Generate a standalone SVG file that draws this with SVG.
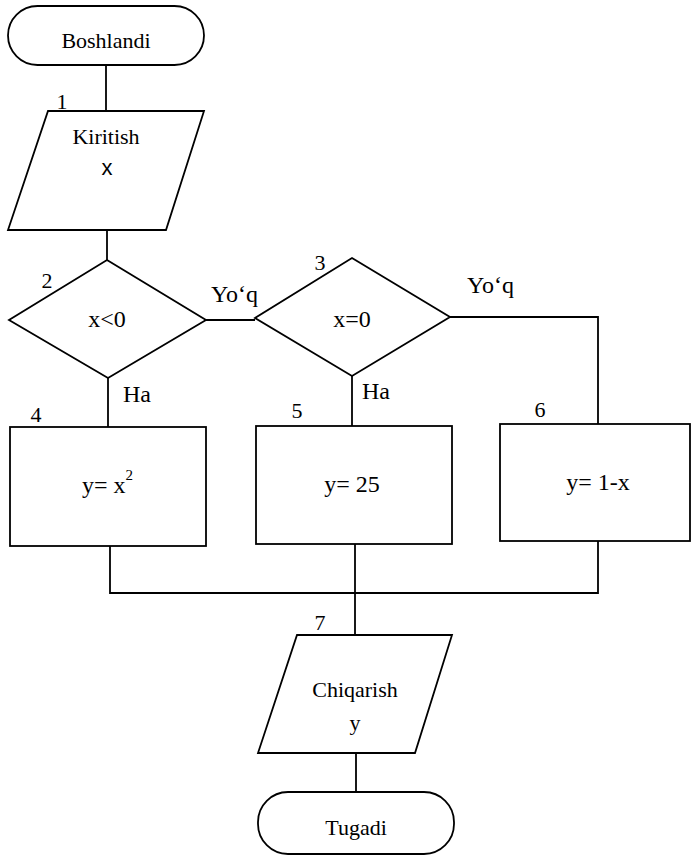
<svg xmlns="http://www.w3.org/2000/svg" width="691" height="856" viewBox="0 0 691 856">
<style>
.s{fill:#fff;stroke:#000;stroke-width:1.8}
.c{fill:none;stroke:#000;stroke-width:1.8}
text{font-family:"Liberation Serif","Times New Roman",serif;fill:#000}
.t{font-size:22px;text-anchor:middle}
.f{font-size:24px;text-anchor:middle}
.n{font-size:22px;text-anchor:middle}
.l{font-size:24px}
.sans{font-family:"Liberation Sans",Arial,sans-serif}
</style>
<rect width="691" height="856" fill="#fff"/>
<g id="connectors">
<polyline class="c" points="106,65 106,111"/>
<polyline class="c" points="107,230 107,260"/>
<polyline class="c" points="206,320 255,320"/>
<polyline class="c" points="450,317 598,317 598,424"/>
<polyline class="c" points="108,378 108,427"/>
<polyline class="c" points="352,376 352,426"/>
<polyline class="c" points="110,546 110,593 598,593 598,541"/>
<polyline class="c" points="355,543 355,635"/>
<polyline class="c" points="356,753 356,792"/>
<text class="l" x="211" y="302">Yo‘q</text>
<text class="l" x="467" y="293">Yo‘q</text>
<text class="l" x="123" y="402">Ha</text>
<text class="l" x="362" y="399">Ha</text>
</g>
<g id="start">
<rect class="s" x="8" y="6" width="196" height="59" rx="29.5"/>
<text class="t" x="106" y="48">Boshlandi</text>
</g>
<g id="n1">
<polygon class="s" points="48,111 204,111 166,230 8,230"/>
<text class="n" x="62" y="109">1</text>
<text class="t" x="106" y="144">Kiritish</text>
<text class="t sans" x="107" y="175">x</text>
</g>
<g id="n2">
<polygon class="s" points="107,260 206,320 108,378 9,320"/>
<text class="n" x="47" y="288">2</text>
<text class="f" x="107" y="327">x&lt;0</text>
</g>
<g id="n3">
<polygon class="s" points="352,258 450,317 352,376 255,318"/>
<text class="n" x="320" y="270">3</text>
<text class="f" x="352" y="327">x=0</text>
</g>
<g id="n4">
<rect class="s" x="10" y="427" width="196" height="119"/>
<text class="n" x="36" y="422">4</text>
<text class="l" x="82" y="493">y= x<tspan font-size="15" dy="-13">2</tspan></text>
</g>
<g id="n5">
<rect class="s" x="256" y="426" width="196" height="118"/>
<text class="n" x="297" y="418">5</text>
<text class="f" x="352" y="492">y= 25</text>
</g>
<g id="n6">
<rect class="s" x="500" y="424" width="190" height="117"/>
<text class="n" x="540" y="417">6</text>
<text class="f" x="598" y="490">y= 1-x</text>
</g>
<g id="n7">
<polygon class="s" points="297,635 452,635 415,753 258,753"/>
<text class="n" x="320" y="630">7</text>
<text class="t" x="355" y="697">Chiqarish</text>
<text class="t" x="355" y="730">y</text>
</g>
<g id="end">
<rect class="s" x="258" y="792" width="196" height="62" rx="30"/>
<text class="t" x="356" y="835">Tugadi</text>
</g>
</svg>
